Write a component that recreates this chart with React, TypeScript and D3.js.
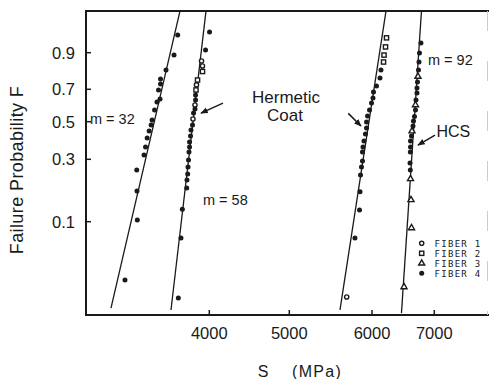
import React, { useRef, useEffect } from 'react';
import * as d3 from 'd3';

// [S (MPa), failure probability F, fiber no.]
type Pt = [number, number, number];

const group32: Pt[] = [
  [3605, 0.957, 4], [3559, 0.89, 4], [3459, 0.817, 4], [3390, 0.764, 4], [3390, 0.734, 4],
  [3365, 0.696, 4], [3384, 0.64, 4], [3346, 0.621, 4], [3316, 0.571, 4], [3285, 0.51, 4],
  [3273, 0.48, 4], [3248, 0.444, 4], [3223, 0.405, 4], [3203, 0.358, 4], [3184, 0.319, 4],
  [3093, 0.251, 4], [3096, 0.175, 4], [3100, 0.103, 4], [2946, 0.0332, 4],
];

const group58: Pt[] = [
  [4003, 0.964, 4], [3953, 0.911, 4], [3903, 0.863, 1], [3915, 0.838, 1], [3915, 0.808, 2],
  [3853, 0.758, 2], [3840, 0.728, 1], [3834, 0.696, 2], [3828, 0.665, 4], [3828, 0.633, 4],
  [3821, 0.602, 1], [3821, 0.577, 4], [3803, 0.552, 4], [3796, 0.516, 1], [3790, 0.48, 4],
  [3771, 0.45, 4], [3765, 0.416, 4], [3753, 0.384, 4], [3753, 0.358, 4], [3746, 0.333, 4],
  [3740, 0.297, 4], [3734, 0.264, 4], [3730, 0.235, 4], [3721, 0.212, 4], [3718, 0.184, 4],
  [3663, 0.126, 4], [3646, 0.0738, 4], [3613, 0.0234, 4],
];

const groupHermetic: Pt[] = [
  [6233, 0.95, 2], [6217, 0.922, 2], [6193, 0.89, 2], [6185, 0.858, 2], [6144, 0.817, 4],
  [6128, 0.77, 4], [6072, 0.721, 4], [6024, 0.683, 4], [6016, 0.646, 4], [5994, 0.614, 4],
  [5970, 0.571, 4], [5946, 0.534, 4], [5934, 0.498, 4], [5934, 0.462, 4], [5921, 0.427, 4],
  [5903, 0.389, 4], [5891, 0.358, 4], [5885, 0.333, 4], [5885, 0.292, 4], [5873, 0.264, 4],
  [5861, 0.231, 4], [5855, 0.172, 4], [5849, 0.124, 4], [5794, 0.0738, 4], [5694, 0.0239, 1],
];

const groupHCS: Pt[] = [
  [6786, 0.935, 4], [6762, 0.899, 4], [6754, 0.858, 4], [6746, 0.817, 4], [6738, 0.779, 3],
  [6730, 0.746, 4], [6722, 0.708, 4], [6722, 0.677, 4], [6706, 0.633, 4], [6698, 0.602, 3],
  [6698, 0.571, 4], [6682, 0.531, 4], [6666, 0.504, 4], [6658, 0.474, 4], [6642, 0.444, 3],
  [6634, 0.416, 4], [6618, 0.389, 4], [6618, 0.358, 4], [6615, 0.333, 4], [6610, 0.282, 4],
  [6615, 0.251, 4], [6618, 0.216, 3], [6626, 0.149, 3], [6634, 0.089, 3], [6514, 0.029, 3],
];

// fitted Weibull lines, read as two end points each
const fitLines: [number, number][][] = [
  [[2771, 0.0193], [3634, 0.992]],
  [[3521, 0.0186], [3959, 0.992]],
  [[5613, 0.0186], [6225, 0.992]],
  [[6473, 0.0175], [6794, 0.992]],
];

// annotation arrows [from, to] in data space
const arrows: [number, number][][] = [
  [[4171, 0.614], [3896, 0.552]],
  [[5713, 0.55], [5867, 0.474]],
  [[7011, 0.421], [6738, 0.368]],
];

const xTicks = [4000, 5000, 6000, 7000];
const yTicks = [0.1, 0.3, 0.5, 0.7, 0.9];
const fiberNames = ['FIBER 1', 'FIBER 2', 'FIBER 3', 'FIBER 4'];

const W = 489;
const H = 379;
const INK = '#1a1a1a';
const FONT = '"Liberation Sans", Arial, Helvetica, sans-serif';

const weib = (F: number) => Math.log(-Math.log(1 - F));

export default function App() {
  const svgRef = useRef<SVGSVGElement>(null);

  useEffect(() => {
    const svg = d3.select(svgRef.current);
    svg.selectAll('*').remove();
    if (!svgRef.current) return;

    const left = 86, right = 489, top = 11, bottom = 315;

    // scanned plot: axis spacing is not perfectly uniform, so use piecewise scales
    const x = d3.scaleLinear().domain(xTicks).range([209.3, 289.3, 372, 434.3]);
    const yW = d3.scaleLinear().domain(yTicks.map(weib)).range([221.7, 159.3, 121.7, 89.3, 52.7]);
    const y = (F: number) => yW(weib(F));

    svg.append('rect').attr('width', W).attr('height', H).attr('fill', 'white');

    const plot = svg.append('g');

    // Frame
    plot.append('line').attr('x1', left).attr('x2', left).attr('y1', top - 1).attr('y2', bottom + 1)
      .attr('stroke', INK).attr('stroke-width', 2);
    plot.append('line').attr('x1', left).attr('x2', right).attr('y1', bottom).attr('y2', bottom)
      .attr('stroke', INK).attr('stroke-width', 1.8);
    plot.append('line').attr('x1', left).attr('x2', right).attr('y1', top).attr('y2', top)
      .attr('stroke', INK).attr('stroke-width', 2);
    plot.append('line').attr('x1', 487.5).attr('x2', 487.5).attr('y1', top).attr('y2', bottom)
      .attr('stroke', '#ccc').attr('stroke-width', 1).attr('stroke-dasharray', '20,30');

    // Y ticks
    yTicks.forEach((t) => {
      plot.append('line').attr('x1', left).attr('x2', left + 5).attr('y1', y(t)).attr('y2', y(t))
        .attr('stroke', INK).attr('stroke-width', 1.5);
      plot.append('text').attr('x', 75).attr('y', y(t) + 6)
        .attr('text-anchor', 'end').attr('font-size', 16.5).attr('font-family', FONT)
        .attr('fill', INK).text(String(t));
    });

    // X ticks
    xTicks.forEach((t) => {
      plot.append('line').attr('x1', x(t)).attr('x2', x(t)).attr('y1', bottom).attr('y2', bottom - 5)
        .attr('stroke', INK).attr('stroke-width', 1.5);
      plot.append('text').attr('x', x(t)).attr('y', 338.5)
        .attr('text-anchor', 'middle').attr('font-size', 16.5).attr('font-family', FONT)
        .attr('fill', INK).text(String(t));
    });

    // Axis titles
    svg.append('text').attr('transform', 'translate(23,170) rotate(-90)')
      .attr('text-anchor', 'middle').attr('font-size', 18).attr('letter-spacing', 0.4)
      .attr('font-family', FONT).attr('fill', INK).text('Failure Probability F');
    svg.append('text').attr('x', 263).attr('y', 377).attr('text-anchor', 'middle')
      .attr('font-size', 16).attr('font-family', FONT).attr('fill', INK).text('S');
    svg.append('text').attr('x', 292).attr('y', 377)
      .attr('font-size', 16).attr('letter-spacing', 1.3).attr('font-family', FONT)
      .attr('fill', INK).text('(MPa)');

    // Fit lines
    const line = d3.line<[number, number]>().x((d) => x(d[0])).y((d) => y(d[1]));
    fitLines.forEach((l) => {
      plot.append('path').datum(l).attr('d', line)
        .attr('fill', 'none').attr('stroke', INK).attr('stroke-width', 1.3);
    });

    // Markers
    const drawMarker = (gSel: d3.Selection<SVGGElement, unknown, null, undefined>, fiber: number, cx: number, cy: number) => {
      if (fiber === 1) {
        gSel.append('circle').attr('cx', cx).attr('cy', cy).attr('r', 2.1)
          .attr('fill', 'white').attr('stroke', INK).attr('stroke-width', 1.4);
      } else if (fiber === 2) {
        gSel.append('rect').attr('x', cx - 2.1).attr('y', cy - 2.1).attr('width', 4.2).attr('height', 4.2)
          .attr('fill', 'white').attr('stroke', INK).attr('stroke-width', 1.4);
      } else if (fiber === 3) {
        gSel.append('path').attr('d', d3.symbol().type(d3.symbolTriangle).size(16)())
          .attr('transform', `translate(${cx},${cy})`)
          .attr('fill', 'white').attr('stroke', INK).attr('stroke-width', 1.4);
      } else {
        gSel.append('circle').attr('cx', cx).attr('cy', cy).attr('r', 2.5).attr('fill', INK);
      }
    };

    const pts = plot.append('g');
    [group32, group58, groupHermetic, groupHCS].forEach((grp) => {
      grp.forEach(([s, f, fiber]) => drawMarker(pts, fiber, x(s), y(f)));
    });

    // Annotation arrows
    svg.append('defs').append('marker').attr('id', 'ah').attr('viewBox', '0 0 10 10')
      .attr('refX', 9).attr('refY', 5).attr('markerWidth', 5).attr('markerHeight', 5)
      .attr('orient', 'auto').append('path').attr('d', 'M0,1 L10,5 L0,9 Z').attr('fill', INK);
    arrows.forEach((a) => {
      plot.append('path').datum(a).attr('d', line)
        .attr('fill', 'none').attr('stroke', INK).attr('stroke-width', 1.5)
        .attr('marker-end', 'url(#ah)');
    });

    // Labels
    const label = (tx: number, ty: number, txt: string, size: number, anchor = 'start') =>
      plot.append('text').attr('x', tx).attr('y', ty).attr('text-anchor', anchor)
        .attr('font-size', size).attr('font-family', FONT).attr('fill', INK).text(txt);
    label(90, 124, 'm = 32', 14.5);
    label(203, 205, 'm = 58', 14.5);
    label(428, 65, 'm = 92', 14.5);
    label(286, 103, 'Hermetic', 17, 'middle');
    label(285, 121, 'Coat', 17, 'middle');
    label(436.5, 137, 'HCS', 16);

    // Legend
    const legend = plot.append('g');
    fiberNames.forEach((name, i) => {
      const ly = 243.3 + i * 10;
      drawMarker(legend, i + 1, 421.7, ly);
      legend.append('text').attr('x', 434.5).attr('y', ly + 3.5)
        .attr('font-size', 9).attr('letter-spacing', 1.3)
        .attr('font-family', '"DejaVu Sans Mono", monospace')
        .attr('fill', INK).text(name);
    });
  }, []);

  return (
    <svg
      ref={svgRef}
      width={W}
      height={H}
      style={{ position: 'fixed', left: 0, top: 0, display: 'block' }}
    />
  );
}
